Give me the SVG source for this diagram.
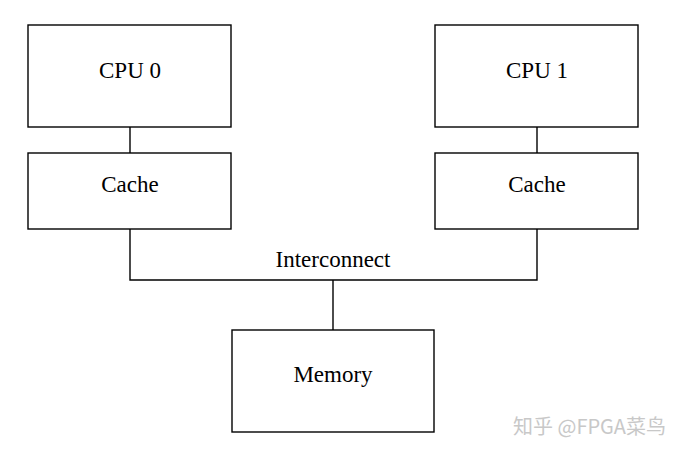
<svg xmlns="http://www.w3.org/2000/svg" width="690" height="454" viewBox="0 0 690 454">
<style>
.box{fill:#fff;stroke:#000;stroke-width:1.4}
.lbl{font-family:"Liberation Serif","Times New Roman",serif;font-size:23px;fill:#000;text-anchor:middle}
.wire{fill:none;stroke:#000;stroke-width:1.4}
.wm{font-family:"Noto Sans CJK SC","Noto Sans",sans-serif;font-size:20px;fill:#c8c8c8}
</style>
<rect width="690" height="454" fill="#fff"/>
<g id="connectors">
<line class="wire" x1="130" y1="127" x2="130" y2="153"/>
<line class="wire" x1="537" y1="127" x2="537" y2="153"/>
<polyline class="wire" points="130,229 130,280 537,280 537,229"/>
<line class="wire" x1="333" y1="280" x2="333" y2="330"/>
</g>
<g id="cpu0"><rect class="box" x="28" y="25" width="203" height="102"/><text class="lbl" x="130" y="78">CPU 0</text></g>
<g id="cpu1"><rect class="box" x="435" y="25" width="203" height="102"/><text class="lbl" x="537" y="78">CPU 1</text></g>
<g id="cache0"><rect class="box" x="28" y="153" width="203" height="76"/><text class="lbl" x="130" y="192">Cache</text></g>
<g id="cache1"><rect class="box" x="435" y="153" width="203" height="76"/><text class="lbl" x="537" y="192">Cache</text></g>
<g id="interconnect"><text class="lbl" x="333" y="267">Interconnect</text></g>
<g id="memory"><rect class="box" x="232" y="330" width="202" height="102"/><text class="lbl" x="333" y="382">Memory</text></g>
<text class="wm" x="513" y="434">知乎 @FPGA菜鸟</text>
</svg>
